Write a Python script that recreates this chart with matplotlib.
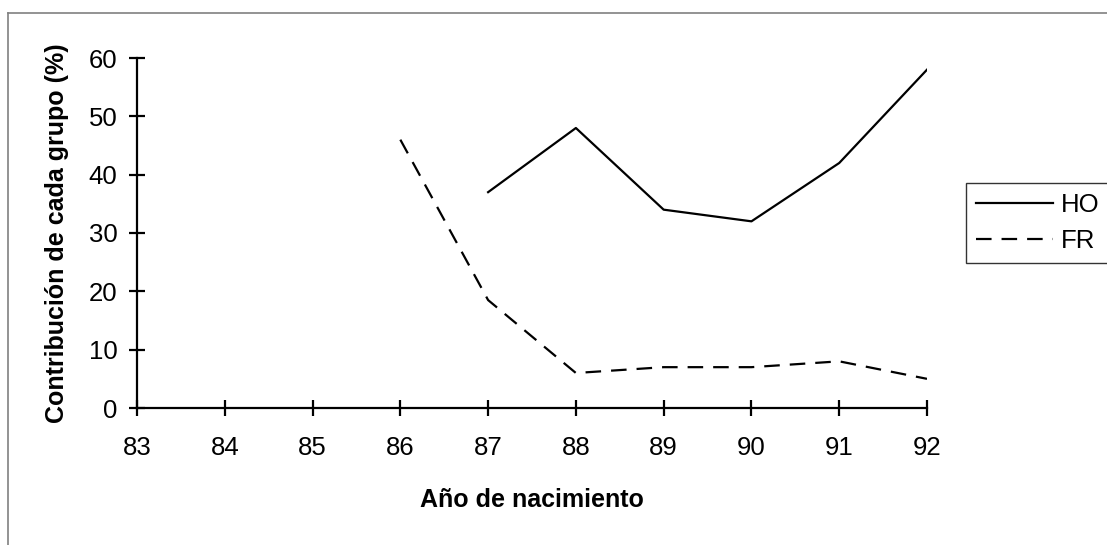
import matplotlib.pyplot as plt
from matplotlib.lines import Line2D

plt.rcParams['font.family'] = ['Liberation Sans', 'DejaVu Sans']

years = [83, 84, 85, 86, 87, 88, 89, 90, 91, 92]
ho_years = [87, 88, 89, 90, 91, 92]
ho = [37, 48, 34, 32, 42, 58]
fr_years = [86, 87, 88, 89, 90, 91, 92]
fr = [46, 18.5, 6, 7, 7, 8, 5]

fig = plt.figure(figsize=(11.07, 5.45), dpi=100)
ax = fig.add_axes([137 / 1107, 1 - 408 / 545, 790 / 1107, 350 / 545])

ax.plot(ho_years, ho, color='black', lw=1.6, label='HO')
ax.plot(fr_years, fr, color='black', lw=1.6, dashes=(7, 4.5), label='FR')

ax.set_xlim(83, 92)
ax.set_ylim(0, 60)
ax.set_xticks(years)
ax.set_yticks(range(0, 61, 10))
for s in ['top', 'right']:
    ax.spines[s].set_visible(False)
for s in ['left', 'bottom']:
    ax.spines[s].set_linewidth(1.6)
ax.tick_params(direction='inout', length=12, width=1.6, labelsize=18.5)
ax.tick_params(axis='x', pad=14)
ax.tick_params(axis='y', pad=8)
ax.set_xlabel('Año de nacimiento', fontsize=18, fontweight='bold', labelpad=20)
ax.set_ylabel('Contribución de cada grupo (%)', fontsize=18, fontweight='bold', labelpad=14)

handles = [Line2D([], [], color='black', lw=1.6),
           Line2D([], [], color='black', lw=1.6, dashes=(7, 4.5))]
leg = fig.legend(handles, ['HO', 'FR'], loc='upper left',
                 bbox_to_anchor=(966 / 1107, 1 - 183 / 545),
                 fontsize=18.5, frameon=True, fancybox=False, handlelength=3.0,
                 handletextpad=0.3, borderpad=0.4, labelspacing=0.45, borderaxespad=0)
leg.get_frame().set_edgecolor('black')
leg.get_frame().set_linewidth(1.0)

# outer chart frame
fig.add_artist(Line2D([8 / 1107, 1.0], [1 - 13 / 545] * 2, color='#808080', lw=1.2))
fig.add_artist(Line2D([8 / 1107] * 2, [0, 1 - 13 / 545], color='#808080', lw=1.2))

fig.savefig('out.png', dpi=100)
